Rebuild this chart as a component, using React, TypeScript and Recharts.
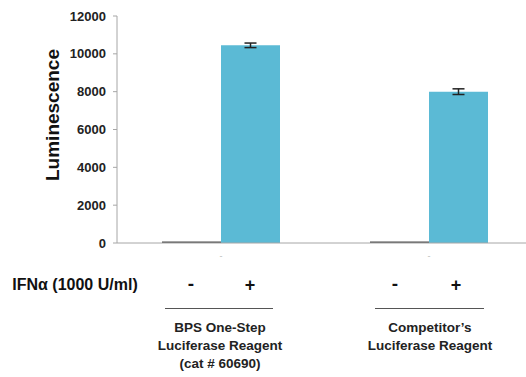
import { BarChart, Bar, XAxis, YAxis, ErrorBar } from "recharts";

const groups = ["BPS One-Step Luciferase Reagent", "Competitor's Luciferase Reagent"];
const minusValues = [80, 80];
const plusValues = [10450, 8000];
const plusErrors = [120, 150];
const yTicks = [0, 2000, 4000, 6000, 8000, 10000, 12000];

const data = groups.map((g, i) => ({
  group: g,
  minus: minusValues[i],
  plus: plusValues[i],
  plusErr: plusErrors[i],
}));

const font = "'Liberation Sans', Arial, sans-serif";

const abs = (x: number, y: number, extra: React.CSSProperties = {}): React.CSSProperties => ({
  position: "absolute",
  left: x,
  top: y,
  transform: "translate(-50%, -50%)",
  whiteSpace: "nowrap",
  fontFamily: font,
  fontWeight: 700,
  color: "#111",
  ...extra,
});

export default function App() {
  return (
    <div
      style={{
        position: "fixed",
        left: 0,
        top: 0,
        width: 526,
        height: 377,
        overflow: "hidden",
        background: "#fff",
      }}
    >
      <BarChart
        width={540}
        height={270}
        data={data}
        margin={{ top: 16, right: 7, bottom: 7, left: 0 }}
        barGap={0}
        barSize={59}
      >
        <YAxis
          width={117}
          domain={[0, 12000]}
          ticks={yTicks}
          interval={0}
          axisLine={{ stroke: "#a6a6a6" }}
          tickLine={{ stroke: "#a6a6a6" }}
          tickSize={4}
          tickMargin={7}
          tick={{ fontSize: 13, fontWeight: 700, fill: "#222", fontFamily: font }}
        />
        <XAxis
          dataKey="group"
          height={20}
          axisLine={{ stroke: "#a6a6a6" }}
          tickLine={false}
          tickFormatter={() => "-"}
          tick={{ fontSize: 9, fill: "#bbb", fontFamily: font, dy: 2 }}
        />
        <Bar dataKey="minus" fill="#4d4d4d" isAnimationActive={false} />
        <Bar dataKey="plus" fill="#5bbad5" isAnimationActive={false}>
          <ErrorBar dataKey="plusErr" width={6} stroke="#222" strokeWidth={1.5} />
        </Bar>
      </BarChart>

      <div style={abs(53, 115, { fontSize: 19, transform: "translate(-50%, -50%) rotate(-90deg)" })}>
        Luminescence
      </div>

      <div style={abs(75, 285, { fontSize: 16 })}>IFNα (1000 U/ml)</div>
      <div style={abs(191, 284, { fontSize: 19 })}>-</div>
      <div style={abs(250, 285, { fontSize: 18 })}>+</div>
      <div style={abs(395, 284, { fontSize: 19 })}>-</div>
      <div style={abs(456, 285, { fontSize: 18 })}>+</div>

      <div style={{ position: "absolute", left: 165, top: 308, width: 108, height: 1, background: "#555" }} />
      <div style={{ position: "absolute", left: 375, top: 308, width: 109, height: 1, background: "#555" }} />

      <div style={abs(220, 346, { fontSize: 13.5, lineHeight: "18px", textAlign: "center", color: "#222" })}>
        BPS One-Step
        <br />
        Luciferase Reagent
        <br />
        (cat # 60690)
      </div>
      <div style={abs(430, 337, { fontSize: 13.5, lineHeight: "18px", textAlign: "center", color: "#222" })}>
        Competitor’s
        <br />
        Luciferase Reagent
      </div>
    </div>
  );
}
